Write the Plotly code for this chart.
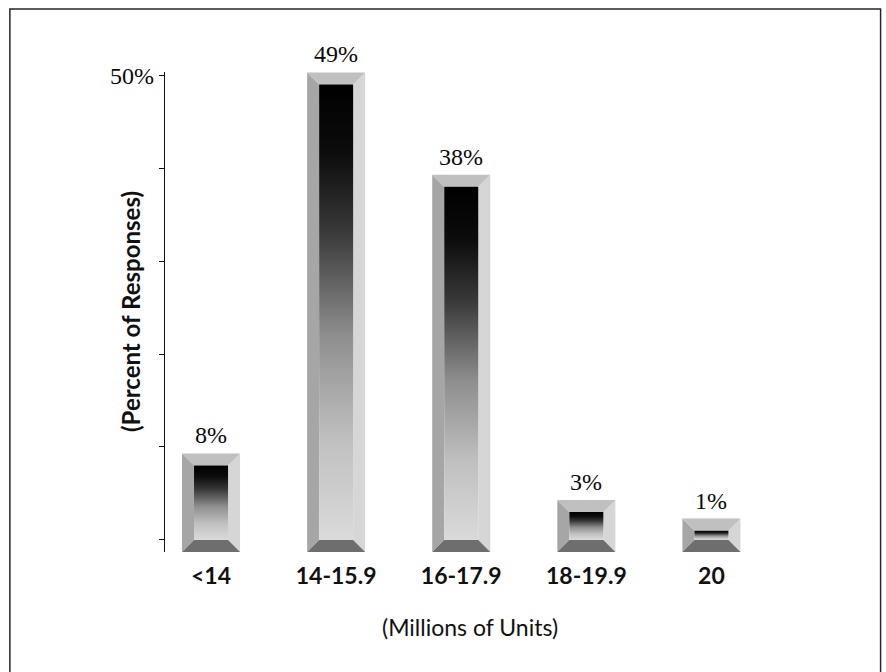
import plotly.graph_objects as go

# Survey results: share of responses by estimated unit volume
categories = ["<14", "14-15.9", "16-17.9", "18-19.9", "20"]
percents = [8, 49, 38, 3, 1]
value_labels = ["8%", "49%", "38%", "3%", "1%"]
y_tick_values = [0, 10, 20, 30, 40, 50]
y_tick_text = ["", "", "", "", "", "50%"]

# Bevel geometry (in axis units)
OUTER_HALF = 0.232   # half width of the framed bar
INNER_HALF = 0.136   # half width of the recessed face
BEVEL = 1.3          # vertical bevel thickness, in percentage points

SERIF = "Liberation Serif, Times New Roman, serif"
SANS = "Lato, Roboto, sans-serif"

fig = go.Figure()


def face_polygons(kind):
    xs, ys = [], []
    for i, v in enumerate(percents):
        lo, hi = i - OUTER_HALF, i + OUTER_HALF
        li, ri = i - INNER_HALF, i + INNER_HALF
        top_o, top_i = v + BEVEL, v
        bot_o, bot_i = -BEVEL, 0
        if kind == "top":
            px = [lo, hi, ri, li, lo]
            py = [top_o, top_o, top_i, top_i, top_o]
        elif kind == "bottom":
            px = [li, ri, hi, lo, li]
            py = [bot_i, bot_i, bot_o, bot_o, bot_i]
        elif kind == "left":
            px = [lo, lo, li, li, lo]
            py = [bot_o, top_o, top_i, bot_i, bot_o]
        else:
            px = [hi, hi, ri, ri, hi]
            py = [bot_o, top_o, top_i, bot_i, bot_o]
        xs += px + [None]
        ys += py + [None]
    return xs, ys


bevel_colors = {"left": "#a6a6a6", "right": "#d6d6d6", "top": "#c0c0c0", "bottom": "#6e6e6e"}
for kind, color in bevel_colors.items():
    xs, ys = face_polygons(kind)
    fig.add_trace(go.Scatter(
        x=xs, y=ys, mode="lines", fill="toself", fillcolor=color,
        line=dict(width=0, color=color), hoverinfo="skip", showlegend=False,
    ))

# Recessed face of each bar: dark at the top fading to light at the base
face_scale = [[0.0, "#dadada"], [0.22, "#c0c0c0"], [0.45, "#8e8e8e"],
              [0.68, "#383838"], [0.85, "#0c0c0c"], [1.0, "#000000"]]
for i, v in enumerate(percents):
    fig.add_trace(go.Scatter(
        x=[i - INNER_HALF, i + INNER_HALF, i + INNER_HALF, i - INNER_HALF, i - INNER_HALF],
        y=[0, 0, v, v, 0],
        mode="lines", fill="toself",
        fillgradient=dict(type="vertical", colorscale=face_scale),
        line=dict(width=0), hoverinfo="skip", showlegend=False,
    ))

# Value labels above each bar
for i, (v, t) in enumerate(zip(percents, value_labels)):
    fig.add_annotation(
        x=i, y=v + BEVEL, text=t, showarrow=False, yanchor="bottom", yshift=3,
        font=dict(family=SERIF, size=24, color="#0a0a0a"),
    )

# Axis titles
fig.add_annotation(
    xref="paper", yref="paper", x=0, y=0.5, xshift=-35, textangle=-90,
    text="(Percent of Responses)", showarrow=False, xanchor="center", yanchor="middle",
    font=dict(family=SANS, size=24, color="#111111", weight="bold"),
)
fig.add_annotation(
    xref="paper", yref="paper", x=0.5, y=0, yshift=-75,
    text="(Millions of Units)", showarrow=False, xanchor="center", yanchor="middle",
    font=dict(family=SANS, size=23, color="#111111"),
)

# Outer frame around the whole chart
fig.add_shape(
    type="rect", xref="paper", yref="paper",
    x0=(10 - 165) / 608.5, x1=(880 - 165) / 608.5,
    y0=(552 - 690) / 480, y1=(552 - 9) / 480,
    line=dict(color="#262626", width=1.5), fillcolor="rgba(0,0,0,0)", layer="below",
)

fig.update_layout(
    width=886, height=672,
    margin=dict(l=165, r=112, t=72, b=120),
    paper_bgcolor="white", plot_bgcolor="white",
    showlegend=False,
    xaxis=dict(
        range=[-0.368, 4.5], tickvals=list(range(len(categories))), ticktext=categories,
        showgrid=False, zeroline=False, showline=False, ticks="",
        ticklabelstandoff=8,
        tickfont=dict(family=SANS, size=23, color="#111111", weight="bold"),
        fixedrange=True,
    ),
    yaxis=dict(
        range=[-BEVEL, 50.35], tickvals=y_tick_values, ticktext=y_tick_text,
        showgrid=False, zeroline=False, showline=True, linecolor="#111111", linewidth=1.3,
        ticks="outside", ticklen=5, tickwidth=1.2, tickcolor="#111111",
        tickfont=dict(family=SERIF, size=24, color="#0a0a0a"),
        fixedrange=True,
    ),
)

fig.write_html("out.html")
